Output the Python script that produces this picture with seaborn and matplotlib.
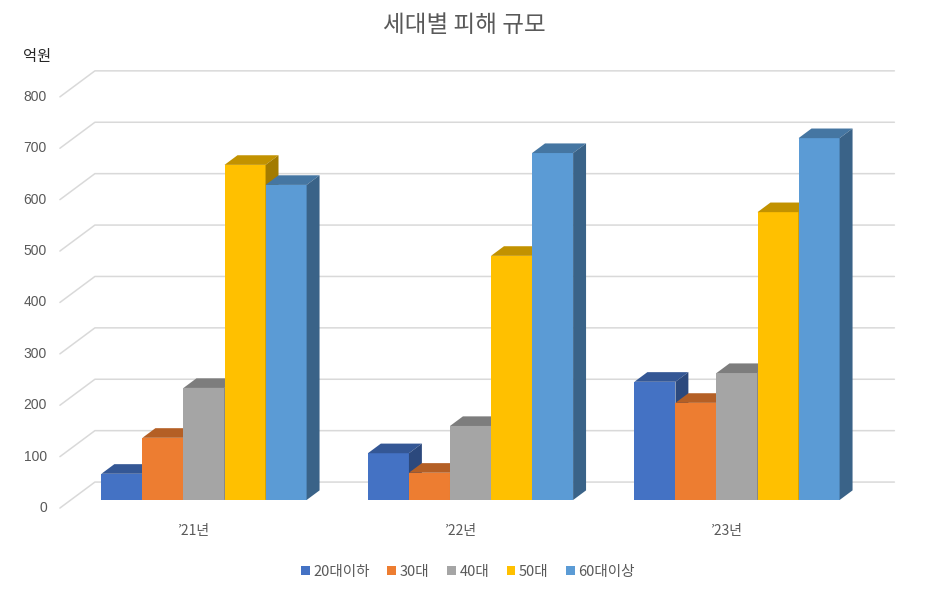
import pandas as pd
import seaborn as sns
import matplotlib.pyplot as plt
from matplotlib.patches import Polygon
from matplotlib.colors import to_rgb

years = ["’21년", "’22년", "’23년"]
groups = ["20대이하", "30대", "40대", "50대", "60대이상"]
colors = ["#4472C4", "#ED7D31", "#A5A5A5", "#FFC000", "#5B9BD5"]

v20 = [51, 91, 230]
v30 = [121, 53, 189]
v40 = [218, 144, 247]
v50 = [652, 475, 560]
v60 = [613, 675, 704]
yticks = [0, 100, 200, 300, 400, 500, 600, 700, 800]

rows = []
for g, vals in zip(groups, [v20, v30, v40, v50, v60]):
    for y, v in zip(years, vals):
        rows.append({"year": y, "group": g, "value": v})
df = pd.DataFrame(rows)

sns.set_theme(style="white")
plt.rcParams['font.family'] = ['Noto Sans CJK KR', 'DejaVu Sans']

# pixel scale of the fake 3d view
PX_X = 266.5      # px per category
PX_V = 0.514      # px per value unit
OX, OY = 204, 500  # pixel of category 0 / value 0 at bar front plane
DX, DY = 35, 26   # px shift for the full depth of the box


def pt(x, v, d):
    # d = depth relative to bar front plane (1.0 = full box depth)
    return (x + DX * d / PX_X, v + DY * d / PX_V)


fig = plt.figure(figsize=(9.28, 5.92), dpi=100)
ax = fig.add_axes([0, 0, 1, 1])
sns.barplot(data=df, x="year", y="value", hue="group", palette=colors,
            width=0.77, saturation=1, linewidth=0, legend=False, ax=ax)
ax.set_xlim(-OX / PX_X, (928 - OX) / PX_X)
ax.set_ylim(-(592 - OY) / PX_V, OY / PX_V)
ax.axis('off')

D_FRONT, D_BACK, D_BAR = -0.31, 0.69, 0.37
grid_c = "#d9d9d9"

for v in yticks:
    a = pt(-0.5, v, D_FRONT)
    b = pt(-0.5, v, D_BACK)
    c = pt(2.5, v, D_BACK)
    ax.plot([a[0], b[0], c[0]], [a[1], b[1], c[1]], color=grid_c, lw=1.1, zorder=0.5)
    tx, ty = pt(-0.5 - 13 / PX_X, v, D_FRONT)
    ax.text(tx, ty, str(v), ha='right', va='center', fontsize=10, color="#595959",
            family=['Liberation Sans', 'DejaVu Sans'])

for i, y in enumerate(years):
    tx, ty = pt(i, -23 / PX_V, D_FRONT)
    ax.text(tx, ty, y, ha='center', va='center', fontsize=10, color="#595959")

# side and top faces from the drawn bars
bars = []
for cont, col in zip(ax.containers, colors):
    for p in cont.patches:
        bars.append((p.get_x(), p, col))
bars.sort(key=lambda t: t[0])

for k, (x0, p, col) in enumerate(bars):
    w = p.get_width()
    h = p.get_height()
    z = 2 + k * 0.01
    p.set_zorder(z)
    rgb = to_rgb(col)
    top_c = tuple(c * 0.76 for c in rgb)
    side_c = tuple(c * 0.64 for c in rgb)
    top = [pt(x0, h, 0), pt(x0 + w, h, 0), pt(x0 + w, h, D_BAR), pt(x0, h, D_BAR)]
    side = [pt(x0 + w, 0, 0), pt(x0 + w, h, 0), pt(x0 + w, h, D_BAR), pt(x0 + w, 0, D_BAR)]
    ax.add_patch(Polygon(top, closed=True, facecolor=top_c, lw=0, zorder=z + 0.001))
    ax.add_patch(Polygon(side, closed=True, facecolor=side_c, lw=0, zorder=z + 0.002))

fig.text(464 / 928, 1 - 25 / 592, "세대별 피해 규모", ha='center', va='center',
         fontsize=17, color="#595959")
fig.text(37 / 928, 1 - 56 / 592, "억원", ha='center', va='center', fontsize=11, color="#262626")

fig.legend(ax.containers, groups, loc='center', bbox_to_anchor=(468 / 928, 1 - 572 / 592),
           ncol=5, frameon=False, handlelength=0.6, handleheight=0.6, handletextpad=0.25,
           columnspacing=1.2, fontsize=10.5, labelcolor="#595959")

fig.savefig("out.png", dpi=100)
